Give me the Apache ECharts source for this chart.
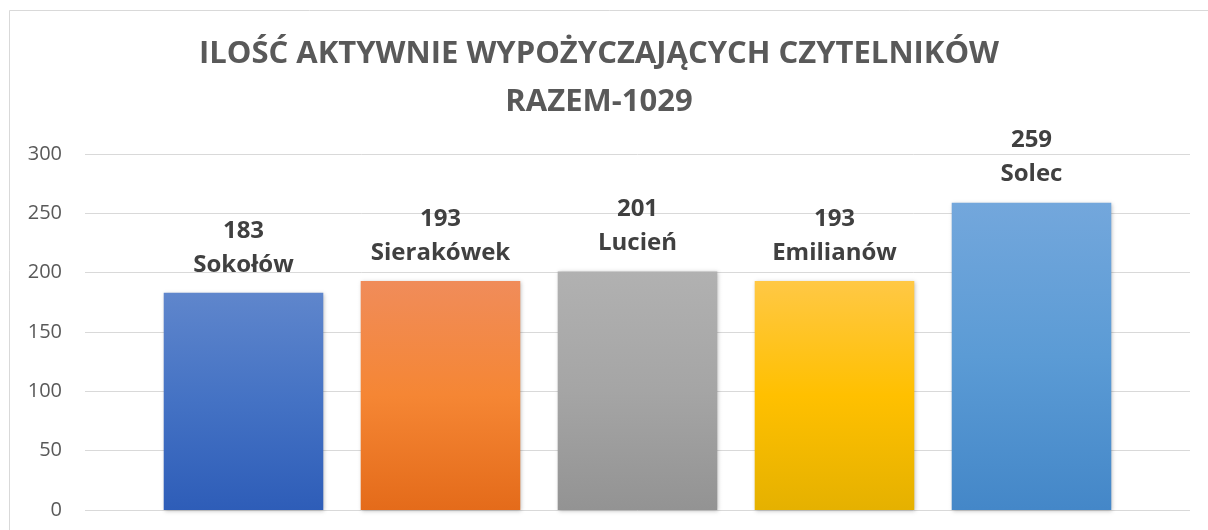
<!DOCTYPE html>
<html>
<head>
    <meta charset="UTF-8">
    <title>Ilość aktywnie wypożyczających czytelników</title>
    <script src="https://cdn.jsdelivr.net/npm/echarts@6/dist/echarts.min.js"></script>
    <style>
        html, body { margin: 0; padding: 0; background: #fff; }
    </style>
</head>
<body>
<div id="chart" style="width:1208px; height:530px;"></div>
<script>
    // dane
    var categories = ['Sokołów', 'Sierakówek', 'Lucień', 'Emilianów', 'Solec'];
    var values = [183, 193, 201, 193, 259];
    var yTicks = [0, 50, 100, 150, 200, 250, 300];

    // kolory gradientu: góra, środek, dół
    var barColors = [
        ['#5f86cc', '#4472c4', '#2e5db8'],
        ['#f08c5a', '#f58634', '#e46b1a'],
        ['#b1b1b1', '#a5a5a5', '#939393'],
        ['#ffc845', '#ffc000', '#e5b100'],
        ['#73a7dc', '#5b9bd5', '#4487c8']
    ];

    function grad(c) {
        return new echarts.graphic.LinearGradient(0, 0, 0, 1, [
            {offset: 0, color: c[0]},
            {offset: 0.5, color: c[1]},
            {offset: 1, color: c[2]}
        ]);
    }

    var chart = echarts.init(document.getElementById('chart'), null, {renderer: 'canvas'});
    var font = '"Open Sans", "DejaVu Sans", sans-serif';

    var option = {
        backgroundColor: '#fff',
        animation: false,
        title: {
            text: 'ILOŚĆ AKTYWNIE WYPOŻYCZAJĄCYCH CZYTELNIKÓW\nRAZEM-1029',
            left: 594,
            textAlign: 'center',
            top: 25,
            textStyle: {
                fontFamily: font,
                fontSize: 31,
                fontWeight: 'bold',
                color: '#595959',
                lineHeight: 48
            }
        },
        graphic: [{
            type: 'rect',
            shape: {x: 9.5, y: 10.5, width: 1220, height: 540},
            style: {fill: 'none', stroke: '#d9d9d9', lineWidth: 1},
            silent: true
        }],
        grid: [
            // siatka z osią Y (szersza)
            {left: 85, right: 18, top: 154, bottom: 20},
            // słupki
            {left: 145, right: 78, top: 154, bottom: 20}
        ],
        xAxis: [
            {gridIndex: 0, type: 'category', data: categories, show: false},
            {gridIndex: 1, type: 'category', data: categories, show: false}
        ],
        yAxis: [
            {
                gridIndex: 0,
                type: 'value',
                min: yTicks[0],
                max: yTicks[yTicks.length - 1],
                interval: 50,
                axisLine: {show: false},
                axisTick: {show: false},
                axisLabel: {
                    margin: 23,
                    fontFamily: font,
                    fontSize: 20,
                    color: '#595959'
                },
                splitLine: {lineStyle: {color: '#d9d9d9', width: 1}}
            },
            {
                gridIndex: 1,
                type: 'value',
                min: yTicks[0],
                max: yTicks[yTicks.length - 1],
                interval: 50,
                show: false,
                splitLine: {show: false}
            }
        ],
        series: [{
            type: 'bar',
            xAxisIndex: 1,
            yAxisIndex: 1,
            barCategoryGap: '19%',
            data: values.map(function (v, i) {
                return {
                    value: v,
                    itemStyle: {
                        color: grad(barColors[i]),
                        shadowColor: 'rgba(0,0,0,0.25)',
                        shadowBlur: 4,
                        shadowOffsetX: 1,
                        shadowOffsetY: 1
                    }
                };
            }),
            label: {
                show: true,
                position: 'top',
                distance: 11,
                fontFamily: font,
                fontSize: 24,
                fontWeight: 'bold',
                color: '#404040',
                lineHeight: 34,
                formatter: function (p) {
                    return p.value + '\n' + categories[p.dataIndex];
                }
            }
        }]
    };

    chart.setOption(option);
</script>
</body>
</html>
